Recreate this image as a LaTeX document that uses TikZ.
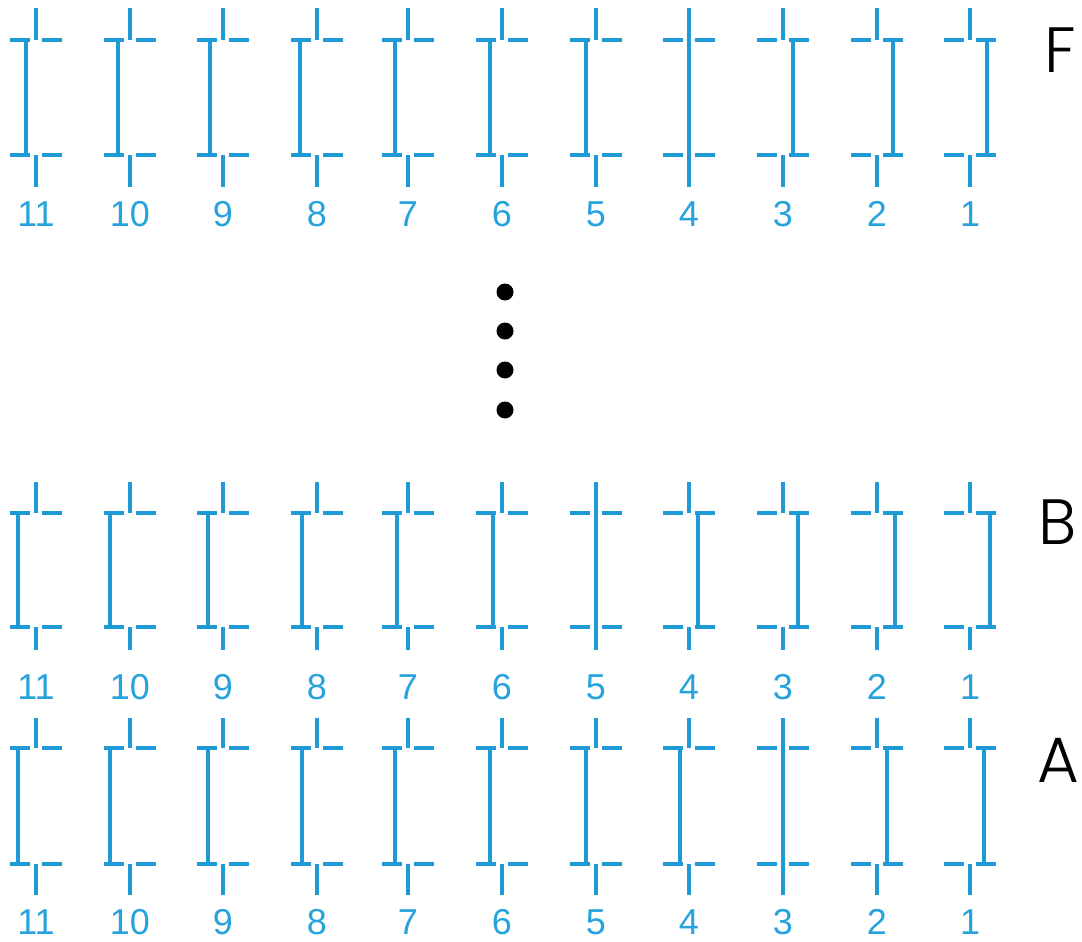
\documentclass[tikz,border=0pt]{standalone}
\usepackage{fontspec}
\setmainfont{Liberation Sans}
\newfontfamily\letterfont{Poppins Light}
\definecolor{lineblue}{HTML}{1E9BD6}
\definecolor{numblue}{HTML}{26A3DC}
\newcommand\ladderrow[7]{%
  \foreach \cx/\off/\n in {#7}{%
    \draw[ln] (\cx,#2) -- (\cx,#3);
    \draw[ln] (\cx-26,#3) -- (\cx-6,#3) (\cx+6,#3) -- (\cx+26,#3);
    \draw[ln] (\cx+\off,#3) -- (\cx+\off,#4);
    \draw[ln] (\cx-26,#4) -- (\cx-6,#4) (\cx+6,#4) -- (\cx+26,#4);
    \draw[ln] (\cx,#4) -- (\cx,#5);
    \node[num] (#1-\n) at (\cx,#6) {\n};
  }%
}
\begin{document}
\begin{tikzpicture}[x=0.5pt,y=-0.5pt,
  ln/.style={lineblue, line width=1.65pt},
  num/.style={text=numblue, inner sep=0pt, anchor=base, font=\fontsize{18}{19}\selectfont},
  rowlabel/.style={inner sep=0pt, font=\letterfont\fontsize{32}{34}\selectfont},
  dotmark/.style={circle, fill=black, inner sep=0pt, minimum size=8.5pt}]
\useasboundingbox (0,0) rectangle (1082,942);
\fill[white] (0,0) rectangle (1082,942);

\ladderrow{F}{8}{40}{155}{187}{226}{36/-10/11, 130/-12/10, 223/-13/9, 317/-17/8, 408/-13/7, 502/-12/6, 596/-10/5, 689/0/4, 783/10/3, 877/16/2, 970/17/1}
\ladderrow{B}{482}{513}{627}{650}{699}{36/-18/11, 130/-20/10, 223/-15/9, 317/-15/8, 408/-11/7, 502/-9/6, 596/0/5, 689/9/4, 783/15/3, 877/18/2, 970/20/1}
\ladderrow{A}{718}{748}{864}{895}{934}{36/-18/11, 130/-20/10, 223/-15/9, 317/-15/8, 408/-13/7, 502/-12/6, 596/-10/5, 689/-9/4, 783/0/3, 877/10/2, 970/14/1}

\node[dotmark] (d1) at (505,292) {};
\node[dotmark] (d2) at (505,331) {};
\node[dotmark] (d3) at (505,370) {};
\node[dotmark] (d4) at (505,410) {};

\node[rowlabel] (labF) at (1060,50) {F};
\node[rowlabel] (labB) at (1058,522) {B};
\node[rowlabel] (labA) at (1058,760) {A};
\end{tikzpicture}
\end{document}
